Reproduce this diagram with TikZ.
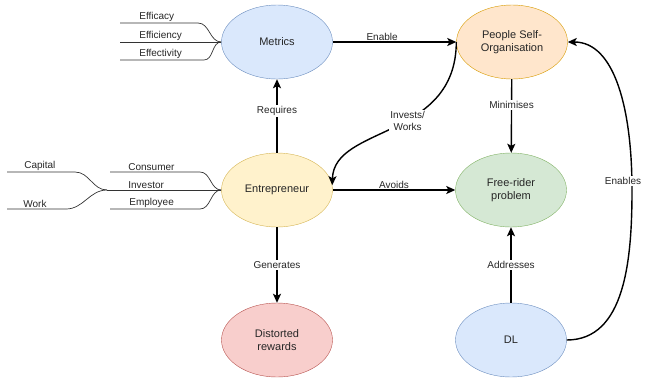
\documentclass[tikz,border=0pt]{standalone}
\usepackage{fontspec}
\setmainfont{Liberation Sans}
\usetikzlibrary{shapes.geometric,arrows.meta}
\definecolor{blueFill}{HTML}{DAE8FC}
\definecolor{blueLine}{HTML}{6C8EBF}
\definecolor{orangeFill}{HTML}{FFE6CC}
\definecolor{orangeLine}{HTML}{D79B00}
\definecolor{yellowFill}{HTML}{FFF2CC}
\definecolor{yellowLine}{HTML}{D6B656}
\definecolor{greenFill}{HTML}{D5E8D4}
\definecolor{greenLine}{HTML}{82B366}
\definecolor{redFill}{HTML}{F8CECC}
\definecolor{redLine}{HTML}{B85450}
\tikzset{
	bubble/.style={ellipse, minimum width=111pt, minimum height=74pt, inner sep=0pt,
			align=center, text=black!85, font=\fontsize{11}{13}\selectfont},
	blueb/.style={bubble, fill=blueFill, draw=blueLine},
	orangeb/.style={bubble, fill=orangeFill, draw=orangeLine},
	yellowb/.style={bubble, fill=yellowFill, draw=yellowLine},
	greenb/.style={bubble, fill=greenFill, draw=greenLine},
	redb/.style={bubble, fill=redFill, draw=redLine},
	link/.style={line width=1.4pt, -{Stealth[length=9pt,width=8pt,inset=2pt]}},
	tag/.style={fill=white, inner sep=1pt, align=center, text=black!85,
			font=\fontsize{10}{12}\selectfont},
	wire/.style={draw=black!80, line width=0.7pt},
	lbl/.style={inner sep=1pt, text=black!85, font=\fontsize{10}{12}\selectfont}
}
\begin{document}
\begin{tikzpicture}[x=1pt,y=-1pt]
		\useasboundingbox (0,0) rectangle (645,383);
		\node[blueb] (metrics) at (277,42) {Metrics};
		\node[orangeb] (people) at (512,42) {People Self-\\Organisation};
		\node[yellowb] (entre) at (277,190) {Entrepreneur};
		\node[greenb] (freerider) at (511,190) {Free-rider\\problem};
		\node[redb] (distorted) at (277,340) {Distorted\\rewards};
		\node[blueb] (dl) at (511,340) {DL};
		\coordinate (wEfficacy) at (120,23);
		\coordinate (wEfficiency) at (120,42);
		\coordinate (wEffectivity) at (120,60);
		\coordinate (wConsumer) at (110,172);
		\coordinate (wJoin) at (107,190);
		\coordinate (wEmployee) at (110,209);
		\coordinate (wCapital) at (7,172);
		\coordinate (wWork) at (7,209);
		\draw[wire] (wEfficacy) node[lbl,above right,xshift=18pt]{Efficacy}
		-- (198,23) to[out=0,in=180] (metrics.west);
		\draw[wire] (wEfficiency) node[lbl,above right,xshift=18pt]{Efficiency}
		-- (metrics.west);
		\draw[wire] (wEffectivity) node[lbl,above right,xshift=18pt]{Effectivity}
		-- (204,60) to[out=0,in=180] (metrics.west);
		\draw[wire] (wConsumer) node[lbl,above right,xshift=17pt]{Consumer}
		-- (200,172) to[out=0,in=180] (entre.west);
		\draw[wire] (wJoin) node[lbl,above right,xshift=20pt]{Investor}
		-- (entre.west);
		\draw[wire] (wEmployee) node[lbl,above right,xshift=18pt]{Employee}
		-- (200,209) to[out=0,in=180] (entre.west);
		\draw[wire] (wCapital) node[lbl,above right,xshift=16pt]{Capital}
		-- (75,172) to[out=0,in=180] (wJoin);
		\draw[wire] (wWork) node[lbl,above right,xshift=15pt]{Work}
		-- (66,209) to[out=0,in=180] (wJoin);
		\draw[link] (metrics) -- node[tag,above,pos=0.4]{Enable} (people);
		\draw[link] (entre) -- node[tag,pos=0.57]{Requires} (metrics);
		\draw[link] (people) -- node[tag,pos=0.35]{Minimises} (freerider);
		\draw[link] (entre) -- node[tag,above,pos=0.5]{Avoids} (freerider);
		\draw[link] (entre) -- node[tag]{Generates} (distorted);
		\draw[link] (dl) -- node[tag]{Addresses} (freerider);
		\draw[link] (people.west) .. controls (456,140) and (334,125) ..
		node[tag,pos=0.43]{Invests/\\Works} (entre.5);
		\draw[link] (dl.east) .. controls (625,340) and (632,260) .. (632,190)
		node[tag,yshift=9pt,xshift=-9pt]{Enables}
		.. controls (632,110) and (615,42) .. (people.east);
	\end{tikzpicture}
\end{document}
